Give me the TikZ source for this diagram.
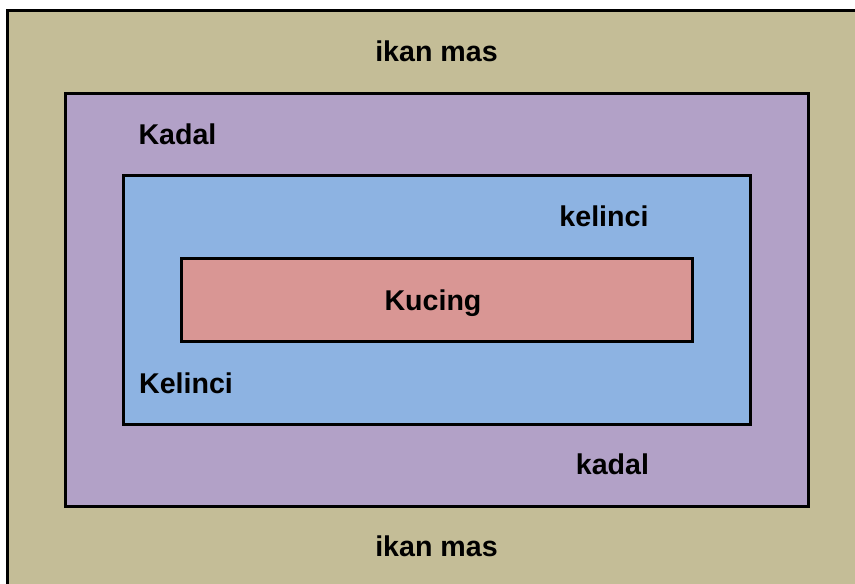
\documentclass[tikz,border=0pt]{standalone}
\usepackage{fontspec}
\setmainfont{Liberation Sans}
\begin{document}
\begin{tikzpicture}[x=1pt,y=-1pt,
  frame/.style={draw=black,line width=3pt},
  lbl/.style={anchor=base,inner sep=0pt,font=\fontsize{28.6}{32}\selectfont\bfseries}]
\definecolor{tanfill}{HTML}{C4BD97}
\definecolor{purplefill}{HTML}{B2A1C7}
\definecolor{bluefill}{HTML}{8DB3E2}
\definecolor{redfill}{HTML}{D99694}
\useasboundingbox (0,0) rectangle (855,584);
\clip (0,0) rectangle (855,584);
% nested boxes, outermost first
\draw[frame,fill=tanfill] (7.5,10.5) rectangle (880,610);
\draw[frame,fill=purplefill] (65.5,93.5) rectangle (808,506);
\draw[frame,fill=bluefill] (123.5,175.5) rectangle (750.5,424.5);
\draw[frame,fill=redfill] (181.5,258.5) rectangle (692.5,341.5);
% labels
\node[lbl] (ikantop) at (436.5,61) {ikan mas};
\node[lbl] (kadalup) at (177.5,144) {Kadal};
\node[lbl] (kelincilow) at (604,226) {kelinci};
\node[lbl] (kucing) at (433,310) {Kucing};
\node[lbl] (kelinciup) at (186,393) {Kelinci};
\node[lbl] (kadallow) at (612.5,474) {kadal};
\node[lbl] (ikanbot) at (436.5,556) {ikan mas};
\end{tikzpicture}
\end{document}
